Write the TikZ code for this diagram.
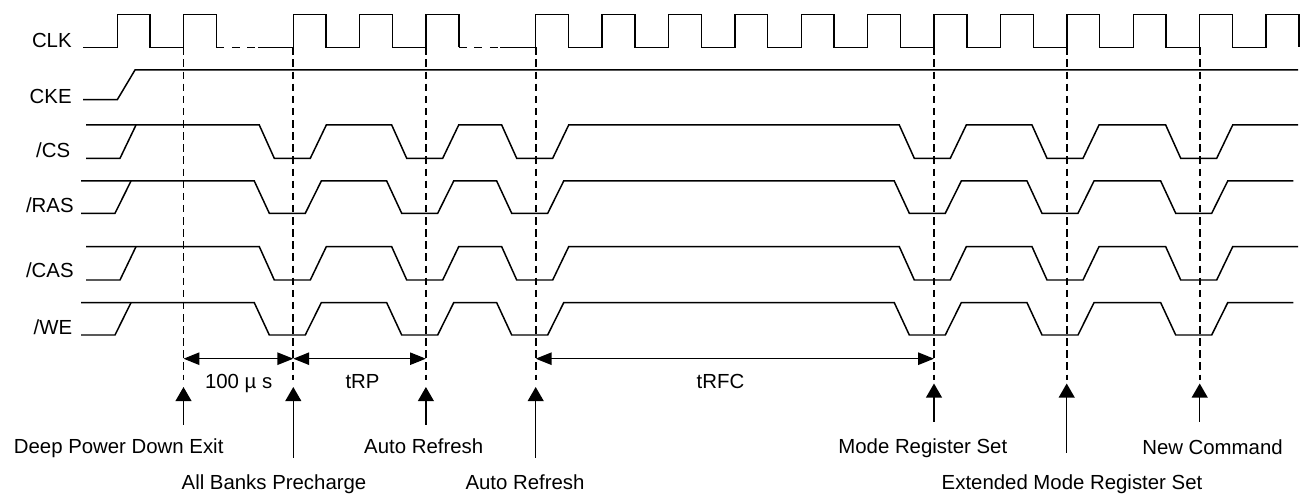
\documentclass[tikz,border=0pt]{standalone}
\usepackage{fontspec}
\setmainfont{Liberation Sans}
\usetikzlibrary{arrows.meta}

\begin{document}
\begin{tikzpicture}[x=0.02cm, y=-0.02cm,
        wave/.style={line width=0.85pt},
        clkgap/.style={line width=0.85pt, dash pattern=on 4.6pt off 4.2pt},
        guide/.style={line width=0.95pt, dash pattern=on 4.3pt off 2.6pt},
        dimarrow/.style={line width=0.85pt, {Triangle[length=9pt,width=7pt]}-{Triangle[length=9pt,width=7pt]}},
        uparrow/.style={line width=0.85pt, -{Triangle[length=8pt,width=9pt]}},
        txt/.style={anchor=base, inner sep=0pt, font=\fontsize{11.6}{14}\selectfont},
        signame/.style={txt, anchor=base east}]
        \useasboundingbox (0,0) rectangle (1309,496);
        % signal names
        \node[signame] (clk) at (72,47.4) {CLK};
        \node[signame] (cke) at (72,104) {CKE};
        \node[signame] (cs) at (70.5,157.4) {/CS};
        \node[signame] (ras) at (74,212.4) {/RAS};
        \node[signame] (cas) at (74,278) {/CAS};
        \node[signame] (we) at (72.5,335) {/WE};
        % clock
        \draw[wave] (83,47.3) foreach \r in {117.3,183.5} { -- (\r,47.3) -- (\r,14.3) -- (\r+32.8,14.3) -- (\r+32.8,47.3) };
        \draw[clkgap] (216.3,47.3) -- (258,47.3);
        \draw[wave] (258,47.3) foreach \r in {293.3,359.7,426.1} { -- (\r,47.3) -- (\r,14.3) -- (\r+32.8,14.3) -- (\r+32.8,47.3) };
        \draw[clkgap] (458.9,47.3) -- (500,47.3);
        \draw[wave] (500,47.3) foreach \k in {0,...,11} { -- (535.7+66.4*\k,47.3) -- (535.7+66.4*\k,14.3) -- (568.5+66.4*\k,14.3) -- (568.5+66.4*\k,47.3) };
        % clock enable
        \draw[wave] (83,99.7) -- (117.3,99.7) -- (135,70) -- (1298,70);
        % command lines
        \foreach \hi/\lo/\o/\e in {125/158.3/0/1298, 181/213.3/5/1293.3, 246.7/280/0/1298, 302.7/335/5/1293.3} {
            \draw[wave] (86-\o,\lo) -- (120-\o,\lo) -- (136-\o,\hi);
            \draw[wave] (86-\o,\hi) foreach \d in {293.3,425.7,535.7,933.3,1066,1199.7} {
                -- (\d-\o-34,\hi) -- (\d-\o-19,\lo) -- (\d-\o+17,\lo) -- (\d-\o+33,\hi)} -- (\e,\hi);
        }
        % events
        \foreach \n/\x/\t/\s in {dpd/183.5/387/425, abp/293.3/387/458, ar1/425.9/387/425, ar2/535.7/387/458, mrs/934/383.5/421.7, emrs/1066.7/383.5/452.7, nc/1199.7/383.5/421.7} {
            \coordinate (\n) at (\x,47.3);
            \coordinate (\n-g) at (\x,380);
            \coordinate (\n-d) at (\x,358.7);
            \coordinate (\n-t) at (\x,\t);
            \coordinate (\n-s) at (\x,\s);
            \draw[guide] (\n) -- (\n-g);
            \draw[uparrow] (\n-s) -- (\n-t);
        }
        \draw[dimarrow] (dpd-d) -- (abp-d);
        \draw[dimarrow] (abp-d) -- (ar1-d);
        \draw[dimarrow] (ar2-d) -- (mrs-d);
        \node[txt] (t100) at (238.7,389) {100 µ s};
        \node[txt] (trp) at (362.5,389) {tRP};
        \node[txt] (trfc) at (720.5,389) {tRFC};
        % event names
        \node[txt] (dpd-l) at (118.7,454) {Deep Power Down Exit};
        \node[txt] (abp-l) at (274,490) {All Banks Precharge};
        \node[txt] (ar1-l) at (423.7,454) {Auto Refresh};
        \node[txt] (ar2-l) at (525,490) {Auto Refresh};
        \node[txt] (mrs-l) at (922.8,454) {Mode Register Set};
        \node[txt] (emrs-l) at (1072,490) {Extended Mode Register Set};
        \node[txt] (nc-l) at (1212.5,455) {New Command};
    \end{tikzpicture}
\end{document}
